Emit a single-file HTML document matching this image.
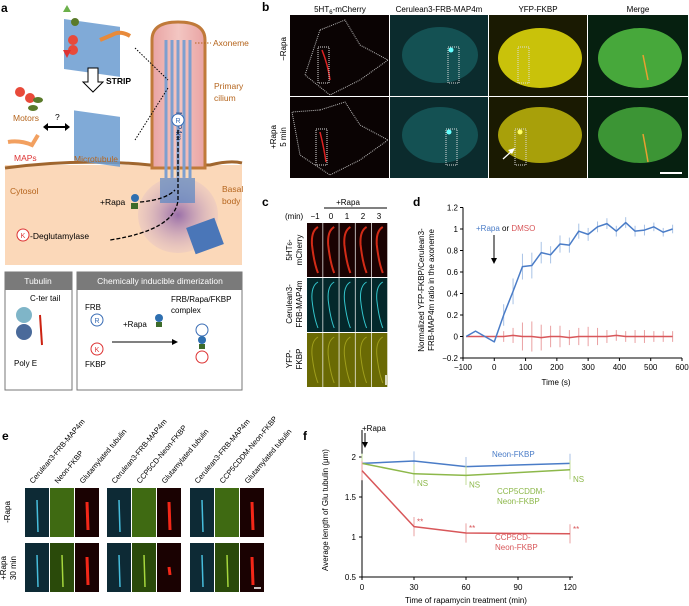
<!DOCTYPE html>
<html><head><meta charset="utf-8"><style>
body{margin:0;background:#fff;}
svg{display:block;font-family:"Liberation Sans",sans-serif;}
</style></head><body>
<svg id="fig" width="689" height="606" viewBox="0 0 689 606">
<defs>
<linearGradient id="cil" x1="0" x2="1"><stop offset="0" stop-color="#e9a3a3"/><stop offset="0.5" stop-color="#f3c6c2"/><stop offset="1" stop-color="#e9a3a3"/></linearGradient>
<radialGradient id="bb" cx="0.5" cy="0.5" r="0.5"><stop offset="0" stop-color="#9a6fa8"/><stop offset="1" stop-color="#d9b8c8" stop-opacity="0.3"/></radialGradient>
</defs>
<g>
<text x="1" y="12" font-size="12" font-weight="bold">a</text>
<rect x="5" y="165" width="237" height="100" fill="#fbd8b9"/>
<path d="M5 168 Q80 158 150 165 L210 165 Q230 160 242 163" stroke="#a0662e" stroke-width="3" fill="none"/>
<path d="M152 168 L152 40 Q152 22 178 22 Q205 22 205 40 L205 168 Z" fill="url(#cil)" stroke="#c07a3a" stroke-width="3"/>
<g stroke="#7d9fcf" stroke-width="3">
<line x1="166" y1="40" x2="166" y2="178"/><line x1="172" y1="40" x2="172" y2="178"/><line x1="178" y1="40" x2="178" y2="178"/><line x1="184" y1="40" x2="184" y2="178"/><line x1="190" y1="40" x2="190" y2="178"/></g>
<ellipse cx="178" cy="215" rx="40" ry="38" fill="url(#bb)"/>
<rect x="160" y="178" width="35" height="25" fill="#5a87c4" opacity="0.7"/>
<rect x="190" y="222" width="30" height="28" fill="#4a76b8" transform="rotate(-20 205 236)"/>
<text x="176" y="112" font-size="8" fill="#2b4f8a" transform="rotate(90 176 112)">MAP4m</text>
<circle cx="178" cy="120" r="6" fill="#fff" stroke="#3a6db5"/>
<text x="178" y="123" font-size="7" fill="#3a6db5" text-anchor="middle">R</text>
<path d="M178 130 L178 200 Q175 230 110 240" stroke="#000" stroke-dasharray="4 2" fill="none" stroke-width="1.3"/>
<path d="M140 202 Q165 200 175 190" stroke="#000" stroke-dasharray="4 2" fill="none" stroke-width="1.3"/>
<path d="M135 48 L168 80 M135 140 L168 88" stroke="#000" stroke-dasharray="1.5 1.5" stroke-width="1"/>
<text x="213" y="46" font-size="8.5" fill="#b5651d">Axoneme</text>
<line x1="195" y1="43" x2="211" y2="43" stroke="#b5651d" stroke-dasharray="1.5 1.5"/>
<text x="214" y="89" font-size="8.5" fill="#b5651d">Primary</text>
<text x="214" y="101" font-size="8.5" fill="#b5651d">cilium</text>
<text x="10" y="194" font-size="8.5" fill="#b5651d">Cytosol</text>
<text x="222" y="192" font-size="8.5" fill="#b5651d">Basal</text>
<text x="222" y="204" font-size="8.5" fill="#b5651d">body</text>
<text x="100" y="205" font-size="8.5">+Rapa</text>
<circle cx="135" cy="198" r="4" fill="#2e6fb0"/><rect x="131" y="203" width="7" height="6" fill="#3d6b2a"/>
<circle cx="23" cy="235" r="6" fill="#fff" stroke="#d33"/>
<text x="23" y="238" font-size="7" fill="#d33" text-anchor="middle">K</text>
<text x="30" y="239" font-size="8.5">-Deglutamylase</text>
<g>
<rect x="64" y="10" width="56" height="50" fill="#6a9bd0" transform="skewY(8)" opacity="0.85"/>
<circle cx="73" cy="40" r="5" fill="#e84a3a"/><circle cx="73" cy="50" r="5" fill="#e84a3a"/><circle cx="75" cy="22" r="4" fill="#5a7a2a"/>
<path d="M100 40 L112 35 Q120 30 130 36" stroke="#e88a3a" stroke-width="4" fill="none"/>
<polygon points="67,5 71,12 63,12" fill="#6bb04a"/><polygon points="67,58 71,50 63,50" fill="#d33"/>
</g>
<text x="106" y="84" font-size="8.5" font-weight="bold">STRIP</text>
<path d="M88 68 L88 82 L83 82 L93 92 L103 82 L98 82 L98 68 Z" fill="#fff" stroke="#000"/>
<rect x="74" y="100" width="46" height="50" fill="#6a9bd0" transform="skewY(8)" opacity="0.85"/>
<circle cx="20" cy="92" r="5" fill="#e84a3a"/><circle cx="30" cy="98" r="5" fill="#e84a3a"/><ellipse cx="38" cy="100" rx="5" ry="3" fill="#5a7a2a"/><ellipse cx="33" cy="108" rx="5" ry="3" fill="#5a7a2a"/>
<text x="13" y="121" font-size="8.5" fill="#b5651d">Motors</text>
<text x="55" y="120" font-size="8.5">?</text>
<path d="M45 127 L68 127" stroke="#000" stroke-width="2"/>
<polygon points="43,127 48,123 48,131"/><polygon points="70,127 65,123 65,131"/>
<path d="M8 142 Q20 140 32 145 L38 135" stroke="#f2a060" stroke-width="4" fill="none"/>
<text x="14" y="161" font-size="8.5" fill="#d33">MAPs</text>
<text x="74" y="162" font-size="8.5" fill="#b5651d">Microtubule</text>
</g>
<g>
<rect x="5" y="272" width="67" height="118" fill="#fff" stroke="#777"/>
<rect x="5" y="272" width="67" height="18" fill="#7a7a7a"/>
<text x="38" y="284" font-size="8.5" fill="#fff" text-anchor="middle">Tubulin</text>
<text x="30" y="301" font-size="8">C-ter tail</text>
<circle cx="24" cy="315" r="8" fill="#7fb5c8"/><circle cx="24" cy="332" r="8" fill="#4a6a9a"/>
<line x1="40" y1="315" x2="42" y2="345" stroke="#c21" stroke-width="2"/>
<text x="14" y="366" font-size="8">Poly E</text>
</g>
<g>
<rect x="77" y="272" width="165" height="118" fill="#fff" stroke="#777"/>
<rect x="77" y="272" width="165" height="18" fill="#7a7a7a"/>
<text x="160" y="284" font-size="8.5" fill="#fff" text-anchor="middle">Chemically inducible dimerization</text>
<text x="85" y="310" font-size="8">FRB</text>
<circle cx="97" cy="320" r="6" fill="#fff" stroke="#3a6db5"/><text x="97" y="323" font-size="7" fill="#3a6db5" text-anchor="middle">R</text>
<circle cx="97" cy="349" r="6" fill="#fff" stroke="#d33"/><text x="97" y="352" font-size="7" fill="#d33" text-anchor="middle">K</text>
<text x="85" y="367" font-size="8">FKBP</text>
<text x="123" y="327" font-size="8">+Rapa</text>
<circle cx="159" cy="318" r="4" fill="#2e6fb0"/><rect x="156" y="322" width="6" height="5" fill="#3d6b2a"/>
<line x1="112" y1="342" x2="175" y2="342" stroke="#000"/><polygon points="178,342 172,339 172,345"/>
<text x="171" y="302" font-size="8">FRB/Rapa/FKBP</text>
<text x="171" y="313" font-size="8">complex</text>
<circle cx="202" cy="330" r="6" fill="#fff" stroke="#3a6db5"/><circle cx="202" cy="340" r="4" fill="#2e6fb0"/><rect x="199" y="344" width="6" height="5" fill="#3d6b2a"/><circle cx="202" cy="357" r="6" fill="#fff" stroke="#d33"/>
</g>
<g>
<text x="262" y="11" font-size="12" font-weight="bold">b</text>
<text x="340" y="12" font-size="8" text-anchor="middle">5HT<tspan font-size="6" dy="2">6</tspan><tspan dy="-2">-mCherry</tspan></text>
<text x="439" y="12" font-size="8" text-anchor="middle">Cerulean3-FRB-MAP4m</text>
<text x="538" y="12" font-size="8" text-anchor="middle">YFP-FKBP</text>
<text x="638" y="12" font-size="8" text-anchor="middle">Merge</text>
<text x="287" y="62" font-size="8" text-anchor="middle" transform="rotate(-90 280 56)">−Rapa</text>
<text x="276" y="137" font-size="8" transform="rotate(-90 276 137)" text-anchor="middle">+Rapa</text>
<text x="286" y="137" font-size="8" transform="rotate(-90 286 137)" text-anchor="middle">5 min</text>
<g>
<rect x="290" y="15" width="99" height="81" fill="#0a0303"/>
<rect x="390" y="15" width="98" height="81" fill="#0b2b2d"/>
<ellipse cx="440" cy="55" rx="38" ry="28" fill="#1b6a6c" opacity="0.6"/>
<rect x="489" y="15" width="98" height="81" fill="#1a1a02"/>
<ellipse cx="540" cy="58" rx="42" ry="30" fill="#c9c20a"/>
<rect x="588" y="15" width="100" height="81" fill="#062010"/>
<ellipse cx="640" cy="58" rx="42" ry="30" fill="#47a83b"/>
</g>
<g>
<rect x="290" y="97" width="99" height="81" fill="#0a0303"/>
<rect x="390" y="97" width="98" height="81" fill="#0b2b2d"/>
<ellipse cx="440" cy="135" rx="38" ry="28" fill="#1b6a6c" opacity="0.6"/>
<rect x="489" y="97" width="98" height="81" fill="#1a1a02"/>
<ellipse cx="540" cy="135" rx="42" ry="28" fill="#a8a00a"/>
<rect x="588" y="97" width="100" height="81" fill="#062010"/>
<ellipse cx="640" cy="135" rx="42" ry="28" fill="#3c9535"/>
</g>
<path d="M320 30 L345 20 L360 45 L388 60 L360 80 L330 95 L305 75 Z" fill="none" stroke="#bbb" stroke-dasharray="1 1"/>
<path d="M320 110 L345 102 L360 125 L388 140 L360 160 L330 175 L300 155 L292 112 Z" fill="none" stroke="#bbb" stroke-dasharray="1 1"/>
<path d="M322 50 Q328 65 330 80" stroke="#d22" stroke-width="1.5" fill="none"/>
<path d="M320 132 Q324 148 326 162" stroke="#d22" stroke-width="1.5" fill="none"/>
<g fill="none" stroke="#ddd" stroke-dasharray="1 1">
<rect x="318" y="47" width="11" height="36"/><rect x="448" y="47" width="11" height="36"/><rect x="518" y="47" width="11" height="36"/>
<rect x="316" y="129" width="11" height="36"/><rect x="446" y="129" width="11" height="36"/><rect x="515" y="129" width="11" height="36"/></g>
<circle cx="451" cy="50" r="2.5" fill="#6ff"/><circle cx="449" cy="132" r="2.5" fill="#6ff"/><circle cx="520" cy="132" r="2.5" fill="#ff6"/>
<path d="M643 55 Q646 70 648 80" stroke="#e8a030" stroke-width="1.5" fill="none"/>
<path d="M643 134 Q646 150 648 162" stroke="#e8a030" stroke-width="1.5" fill="none"/>
<line x1="503" y1="159" x2="513" y2="150" stroke="#fff" stroke-width="1.3"/><polygon points="515,148 508,150 512,154" fill="#fff"/>
<line x1="660" y1="173" x2="682" y2="173" stroke="#fff" stroke-width="2"/>
</g>
<g>
<text x="262" y="206" font-size="12" font-weight="bold">c</text>
<text x="348" y="205" font-size="8" text-anchor="middle">+Rapa</text>
<line x1="324" y1="208" x2="387" y2="208" stroke="#000"/>
<text x="285" y="219" font-size="8">(min)</text>
<text x="315" y="219" font-size="8" text-anchor="middle">−1</text>
<text x="331" y="219" font-size="8" text-anchor="middle">0</text>
<text x="347" y="219" font-size="8" text-anchor="middle">1</text>
<text x="363" y="219" font-size="8" text-anchor="middle">2</text>
<text x="379" y="219" font-size="8" text-anchor="middle">3</text>
<g id="cimgs"></g>
<text x="292" y="250" font-size="8" transform="rotate(-90 292 250)" text-anchor="middle">5HT<tspan font-size="6">6</tspan>-</text>
<text x="302" y="250" font-size="8" transform="rotate(-90 302 250)" text-anchor="middle">mCherry</text>
<text x="292" y="304" font-size="8" transform="rotate(-90 292 304)" text-anchor="middle">Cerulean3-</text>
<text x="302" y="304" font-size="8" transform="rotate(-90 302 304)" text-anchor="middle">FRB-MAP4m</text>
<text x="292" y="359" font-size="8" transform="rotate(-90 292 359)" text-anchor="middle">YFP-</text>
<text x="302" y="359" font-size="8" transform="rotate(-90 302 359)" text-anchor="middle">FKBP</text>
</g>
<g id="paneld">
<text x="413" y="206" font-size="12" font-weight="bold">d</text>
<text x="424" y="290" font-size="8" transform="rotate(-90 424 290)" text-anchor="middle">Normalized YFP-FKBP/Cerulean3-</text>
<text x="434" y="290" font-size="8" transform="rotate(-90 434 290)" text-anchor="middle">FRB-MAP4m ratio in the axoneme</text>
<text x="556" y="385" font-size="8" text-anchor="middle">Time (s)</text>
<text x="476" y="231" font-size="8"><tspan fill="#4a7cc7">+Rapa</tspan> or <tspan fill="#d8575a">DMSO</tspan></text>
<line x1="494" y1="235" x2="494" y2="260" stroke="#000"/><polygon points="494,264 491,258 497,258"/>
</g>
<g id="panele">
<text x="2" y="440" font-size="12" font-weight="bold">e</text>
<text x="10" y="512" font-size="8" transform="rotate(-90 10 512)" text-anchor="middle">-Rapa</text>
<text x="6" y="568" font-size="8" transform="rotate(-90 6 568)" text-anchor="middle">+Rapa</text>
<text x="16" y="568" font-size="8" transform="rotate(-90 16 568)" text-anchor="middle">30 min</text>
</g>
<g id="panelf">
<text x="303" y="440" font-size="12" font-weight="bold">f</text>
<text x="328" y="510" font-size="8" transform="rotate(-90 328 510)" text-anchor="middle">Average length of Glu tubulin (μm)</text>
<text x="466" y="603" font-size="8" text-anchor="middle">Time of rapamycin treatment (min)</text>
<text x="362" y="431" font-size="8">+Rapa</text>
<line x1="365" y1="433" x2="365" y2="444" stroke="#000"/><polygon points="365,448 362,442 368,442"/>
<text x="492" y="457" font-size="8" fill="#4a7cc7">Neon-FKBP</text>
<text x="497" y="494" font-size="8" fill="#8db84a">CCP5CDDM-</text>
<text x="497" y="504" font-size="8" fill="#8db84a">Neon-FKBP</text>
<text x="495" y="540" font-size="8" fill="#d8575a">CCP5CD-</text>
<text x="495" y="550" font-size="8" fill="#d8575a">Neon-FKBP</text>
</g>
</svg>
<script>
const NS="http://www.w3.org/2000/svg";
function mk(p,t,a){const e=document.createElementNS(NS,t);for(const k in a)e.setAttribute(k,a[k]);p.appendChild(e);return e;}
const cimgs=document.getElementById('cimgs');
const cRowColors=[['#1a0202','#e8301a'],['#04282b','#3ad8e0'],['#6a6a04','#f0ee40']];
const cRowY=[223,278,333];
for(let r=0;r<3;r++){for(let i=0;i<5;i++){const x=307+i*16.2;
const g=mk(cimgs,'rect',{x:x,y:cRowY[r],width:15.5,height:54,fill:cRowColors[r][0]});


mk(cimgs,'path',{d:`M${x+11} ${cRowY[r]+4} Q${x+4} ${cRowY[r]+8} ${x+5} ${cRowY[r]+22} Q${x+7} ${cRowY[r]+40} ${x+11} ${cRowY[r]+50}`,stroke:cRowColors[r][1],'stroke-width':r==0?2:1,fill:'none',opacity:r==2?0.4:0.9});
}}
mk(cimgs,'line',{x1:386,y1:375,x2:386,y2:385,stroke:'#fff','stroke-width':1.5});

const dTimes=[-90,-60,-30,0,30,60,90,120,150,180,210,240,270,300,330,360,390,420,450,480,510,540,570];
const dRapa=[0,0.05,0,-0.05,0.2,0.42,0.65,0.66,0.78,0.76,0.86,0.85,0.98,0.95,1.02,1.05,0.98,1.06,0.98,0.99,1.02,0.97,1.0];
const dRapaErr=[0,0,0,0,0.1,0.12,0.12,0.12,0.1,0.08,0.08,0.07,0.07,0.06,0.05,0.05,0.05,0.05,0.05,0.05,0.04,0.04,0.04];
const dDmso=[0,0,0,0,0,0.01,0,0,-0.01,0,0,-0.01,0,0,0,0,0.01,0,0,0,0,0,0];
const dDmsoErr=[0,0,0,0,0.05,0.07,0.13,0.14,0.12,0.1,0.1,0.07,0.08,0.09,0.08,0.06,0.05,0.05,0.06,0.06,0.05,0.05,0.05];
const dXTicks=[-100,0,100,200,300,400,500,600];
const dYTicks=[-0.2,0,0.2,0.4,0.6,0.8,1,1.2];
const dx=v=>463+(v+100)*(219/700), dy=v=>336.5-v*107.5;
const pd=document.getElementById('paneld');
mk(pd,'line',{x1:463,y1:dy(1.2),x2:463,y2:dy(-0.2),stroke:'#000'});
mk(pd,'line',{x1:463,y1:dy(-0.2),x2:682,y2:dy(-0.2),stroke:'#000'});
dXTicks.forEach(t=>{mk(pd,'line',{x1:dx(t),y1:dy(-0.2),x2:dx(t),y2:dy(-0.2)+3,stroke:'#000'});
const tx=mk(pd,'text',{x:dx(t),y:dy(-0.2)+12,'font-size':8,'text-anchor':'middle'});tx.textContent=t<0?'−'+(-t):t;});
dYTicks.forEach(t=>{mk(pd,'line',{x1:460,y1:dy(t),x2:463,y2:dy(t),stroke:'#000'});
const tx=mk(pd,'text',{x:458,y:dy(t)+3,'font-size':8,'text-anchor':'end'});tx.textContent=t<0?'−'+(-t):t;});
function series(p,xs,ys,errs,col,lcol,xf,yf,name){
xs.forEach((x,i)=>{if(errs[i]>0){const e=mk(p,'line',{x1:xf(x),x2:xf(x),y1:yf(ys[i]-errs[i]),y2:yf(ys[i]+errs[i]),stroke:lcol,'stroke-width':1});

}});
const l=mk(p,'polyline',{points:xs.map((x,i)=>xf(x)+','+yf(ys[i])).join(' '),fill:'none',stroke:col,'stroke-width':1.5,'stroke-linejoin':'round'});

}
series(pd,dTimes,dDmso,dDmsoErr,'#d8575a','#eaa0a2',dx,dy,'dmso');
series(pd,dTimes,dRapa,dRapaErr,'#4a7cc7','#a8c2e6',dx,dy,'rapa');

const pe=document.getElementById('panele');
const eLabels=[['Cerulean3-FRB-MAP4m','Neon-FKBP','Glutamylated tubulin'],['Cerulean3-FRB-MAP4m','CCP5CD-Neon-FKBP','Glutamylated tubulin'],['Cerulean3-FRB-MAP4m','CCP5CDDM-Neon-FKBP','Glutamylated tubulin']];
const eGroupX=[25,107,190];
const eCols=[['#0d2a35','#4bc6e6'],['#3f6a12','#aee040'],['#1a0202','#ff2a1a']];
const eRows=[488,543];
const glutVisible=[[1,1],[1,0.3],[1,1]];
eGroupX.forEach((gx,g)=>{for(let c=0;c<3;c++){const x=gx+c*25;
const lb=mk(pe,'text',{x:x+8,y:484,'font-size':7.5,transform:`rotate(-50 ${x+8} 484)`});lb.textContent=eLabels[g][c];
eRows.forEach((y,r)=>{const im=mk(pe,'rect',{x:x,y:y,width:24,height:49,fill:(c==1&&r==1)?'#2a4a0a':eCols[c][0]});


const len=c==2?(glutVisible[g][r]<1?8:28):32;
mk(pe,'line',{x1:x+12,y1:y+8+(32-len)/2+4,x2:x+13,y2:y+8+(32-len)/2+4+len,stroke:eCols[c][1],'stroke-width':c==2?3:1.5,opacity:(c==1&&r==0)?0:0.95});});}});
mk(pe,'line',{x1:254,y1:588,x2:261,y2:588,stroke:'#fff','stroke-width':1.5});

const fTimes=[0,30,60,120];
const fNeon=[1.92,1.95,1.88,1.92];
const fDM=[1.92,1.79,1.77,1.84];
const fCD=[1.83,1.13,1.05,1.04];
const fErr=[0.12,0.12,0.12,0.12];
const fXTicks=[0,30,60,90,120];
const fYTicks=[0.5,1,1.5,2];
const fx=v=>362+v*(52/30), fy=v=>577-(v-0.5)*80;
const pf=document.getElementById('panelf');
mk(pf,'line',{x1:362,y1:430,x2:362,y2:577,stroke:'#000'});
mk(pf,'line',{x1:362,y1:577,x2:573,y2:577,stroke:'#000'});
fXTicks.forEach(t=>{mk(pf,'line',{x1:fx(t),y1:577,x2:fx(t),y2:580,stroke:'#000'});
const tx=mk(pf,'text',{x:fx(t),y:590,'font-size':8,'text-anchor':'middle'});tx.textContent=t;});
fYTicks.forEach(t=>{mk(pf,'line',{x1:359,y1:fy(t),x2:362,y2:fy(t),stroke:'#000'});
const tx=mk(pf,'text',{x:356,y:fy(t)+3,'font-size':8,'text-anchor':'end'});tx.textContent=t;});
series(pf,fTimes,fNeon,fErr,'#4a7cc7','#a8c2e6',fx,fy,'neon-fkbp');
series(pf,fTimes,fDM,fErr,'#8db84a','#c3dc9a',fx,fy,'ccp5cddm');
series(pf,fTimes,fCD,fErr,'#d8575a','#eaa0a2',fx,fy,'ccp5cd');
const fLabels=[['NS','#8db84a',fDM],['**','#d8575a',fCD]];
fLabels.forEach(([s,c,arr])=>{fTimes.forEach((t,i)=>{if(i==0)return;const tx=mk(pf,'text',{x:fx(t)+3,y:fy(arr[i])+(s=='NS'?12:-2),'font-size':8,fill:c});tx.textContent=s;});});
</script>
</body></html>
